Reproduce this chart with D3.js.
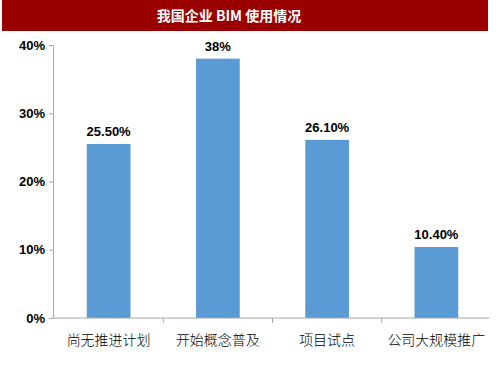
<!DOCTYPE html>
<html><head><meta charset="utf-8">
<script src="https://cdn.jsdelivr.net/npm/d3@7"></script>
<style>body{margin:0;background:#fff}svg{display:block}</style>
</head><body>
<script>
const title = "我国企业 BIM 使用情况";
const categories = ["尚无推进计划", "开始概念普及", "项目试点", "公司大规模推广"];
const values = [25.5, 38, 26.1, 10.4];
const valueLabels = ["25.50%", "38%", "26.10%", "10.40%"];
const yTicks = [0, 10, 20, 30, 40];
const yTickLabels = ["0%", "10%", "20%", "30%", "40%"];

const W = 500, H = 375;
const svg = d3.select("body").append("svg").attr("width", W).attr("height", H);

svg.append("rect").attr("x", 2).attr("y", 0).attr("width", 486).attr("height", 31).attr("fill", "#9b0000");
svg.append("text").attr("x", 229).attr("y", 21).attr("text-anchor", "middle")
  .attr("fill", "#fff").attr("font-family", "'Noto Sans CJK SC'").attr("font-weight", "bold")
  .attr("font-size", 14).text(title);

const x = d3.scaleBand().domain(categories).range([54, 491]).paddingInner(0.6).paddingOuter(0.3);
const y = d3.scaleLinear().domain([0, 40]).range([318, 45]);
const axisColor = "#a6a6a6";

// y axis
const gy = svg.append("g").attr("transform", "translate(53,0)")
  .call(d3.axisLeft(y).tickValues(yTicks).tickSize(4).tickFormat((d, i) => yTickLabels[i]));
gy.select(".domain").attr("stroke", axisColor);
gy.selectAll(".tick line").attr("stroke", axisColor);
gy.selectAll(".tick text").attr("fill", "#000").attr("font-family", "'Liberation Sans'")
  .attr("font-weight", "bold").attr("font-size", 13).attr("x", -8);

// bars
svg.selectAll("rect.bar").data(values).enter().append("rect").attr("class", "bar")
  .attr("x", (d, i) => x(categories[i])).attr("width", x.bandwidth())
  .attr("y", d => y(d)).attr("height", d => y(0) - y(d)).attr("fill", "#5b9bd5");

svg.selectAll("text.val").data(values).enter().append("text").attr("class", "val")
  .attr("x", (d, i) => x(categories[i]) + x.bandwidth() / 2).attr("y", d => y(d) - 8)
  .attr("text-anchor", "middle").attr("font-family", "'Liberation Sans'").attr("font-weight", "bold")
  .attr("font-size", 13).attr("fill", "#000").text((d, i) => valueLabels[i]);

// x axis
const step = x.step();
const gx = svg.append("g").attr("transform", "translate(0,318)");
gx.append("line").attr("x1", 53).attr("x2", 489).attr("stroke", axisColor);
gx.selectAll("line.tk").data(categories.slice(1)).enter().append("line").attr("class", "tk")
  .attr("x1", d => x(d) - (step - x.bandwidth()) / 2).attr("x2", d => x(d) - (step - x.bandwidth()) / 2)
  .attr("y1", 0).attr("y2", 5).attr("stroke", axisColor);
gx.selectAll("text").data(categories).enter().append("text")
  .attr("x", d => x(d) + x.bandwidth() / 2).attr("y", 27).attr("text-anchor", "middle")
  .attr("font-family", "'Noto Sans CJK SC'").attr("font-size", 14).attr("font-weight", 300)
  .attr("fill", "#000").text(d => d);
</script>
</body></html>
